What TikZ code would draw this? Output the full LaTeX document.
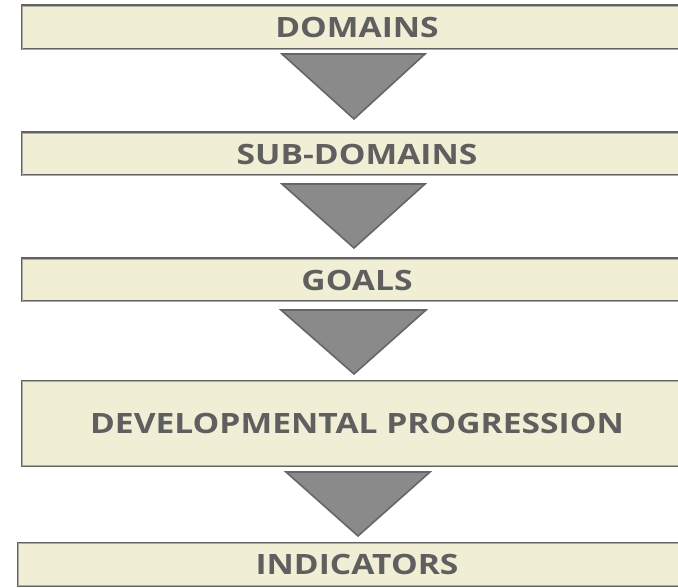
\documentclass[tikz,border=0pt]{standalone}
\usepackage{fontspec}
\setmainfont{Open Sans}
\definecolor{boxfill}{HTML}{F1EED6}
\definecolor{boxedge}{HTML}{636363}
\definecolor{boxinner}{HTML}{ABABA3}
\definecolor{labelgrey}{HTML}{5F5F5F}
\definecolor{trifill}{HTML}{8A8A8A}
\definecolor{triedge}{HTML}{666666}
% widened bold caption
\newcommand{\lvltext}[1]{\scalebox{1.2}[1]{#1}}
\tikzset{
  level/.style={draw=boxedge, line width=2pt, fill=boxfill, rectangle,
    inner sep=0pt, font=\fontsize{28}{32}\selectfont\bfseries, text=labelgrey},
  innerline/.style={draw=boxinner, line width=0.9pt},
  downtri/.style={draw=triedge, fill=trifill, line width=1.6pt, line join=miter}
}
% light rule just inside a box's dark border
\newcommand{\innerrule}[1]{%
  \draw[innerline] ([shift={(1.5,1.5)}]#1.north west) rectangle ([shift={(-1.5,-1.5)}]#1.south east);}
\begin{document}
\begin{tikzpicture}[x=1pt,y=-1pt]
\useasboundingbox (0,0) rectangle (678,588);
\fill[white] (0,0) rectangle (678,588);
\clip (0,0) rectangle (678,588);

% level boxes (they run on past the right edge)
\node[level, minimum width=670pt, minimum height=44pt] (domains) at (357,27.5) {\lvltext{DOMAINS}};
\node[level, minimum width=670pt, minimum height=43pt] (subdomains) at (357,154) {\lvltext{SUB-DOMAINS}};
\node[level, minimum width=670pt, minimum height=43pt] (goals) at (357,280) {\lvltext{GOALS}};
\node[level, minimum width=670pt, minimum height=85pt] (progression) at (357,423.5) {\lvltext{DEVELOPMENTAL PROGRESSION}};
\node[level, minimum width=678pt, minimum height=43pt] (indicators) at (357,564.5) {\lvltext{INDICATORS}};
\foreach \b in {domains,subdomains,goals,progression,indicators}{\innerrule{\b}}

% downward triangles between the levels
\draw[downtri] (282,54) -- (425,54) -- (354,119) -- cycle;
\draw[downtri] (282,184) -- (425,184) -- (354,248) -- cycle;
\draw[downtri] (281,310) -- (426,310) -- (354,374) -- cycle;
\draw[downtri] (286,472) -- (430,472) -- (358,536) -- cycle;
\end{tikzpicture}
\end{document}
